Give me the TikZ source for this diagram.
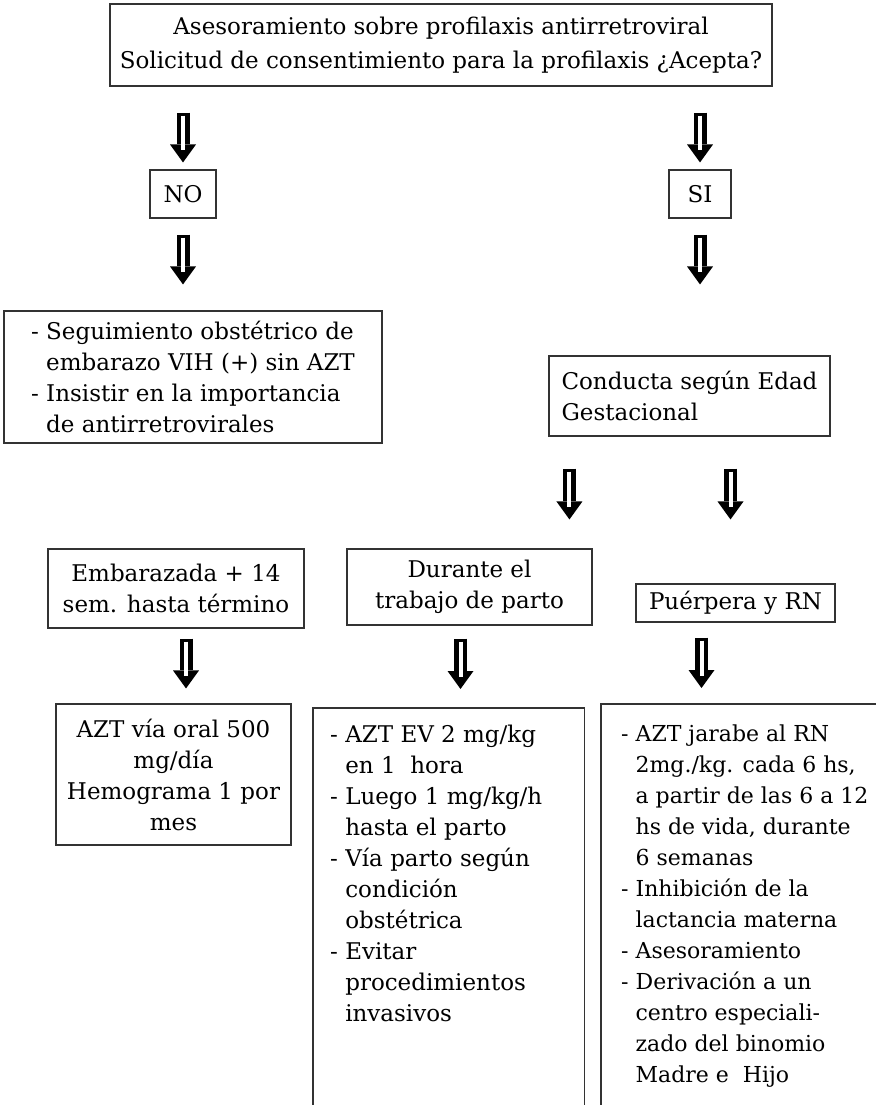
\documentclass[tikz,border=0pt]{standalone}
\usepackage{fontspec}
\setmainfont{DejaVu Serif}
\usetikzlibrary{arrows.meta,positioning,calc}

\tikzset{
  caja/.style={draw=black!80, line width=1.1pt, inner sep=0pt, align=center, font=\fontsize{23}{31}\selectfont},
  texto/.style={inner sep=0pt, align=left, font=\fontsize{23}{31}\selectfont},
  borde/.style={draw=black!80, line width=1.1pt},
  flecha/.style 2 args={line width=13pt, -{Triangle[width=26pt,length=18pt,line width=0pt]},
    shorten <=#1, shorten >=#2,
    postaction={draw=white, line width=4pt, -, shorten <=#1+3pt, shorten >=#2+12pt}}
}
\newcommand{\sang}{\phantom{- }}

\begin{document}
\begin{tikzpicture}[x=1pt, y=-1pt]
  \useasboundingbox (0,0) rectangle (875,1105);
  \node[caja, minimum width=662pt, minimum height=82pt, font=\fontsize{23}{34}\selectfont] (asesor) at (441,45)
    {Asesoramiento sobre profilaxis antirretroviral\\Solicitud de consentimiento para la profilaxis ¿Acepta?};
  \node[caja, minimum width=66pt, minimum height=48pt] (no) at (183,194) {NO};
  \node[caja, minimum width=62pt, minimum height=48pt] (si) at (700,194) {SI};
  \node[caja, minimum width=378pt, minimum height=132pt, align=left] (seguimiento) at (193,377)
    {- Seguimiento obstétrico de\\\sang embarazo VIH (+) sin AZT\\- Insistir en la importancia\\\sang de antirretrovirales};
  \node[caja, minimum width=281pt, minimum height=80pt, align=left] (conducta) at (689.5,396)
    {Conducta según Edad\\Gestacional};
  \node[caja, minimum width=256pt, minimum height=79pt] (embarazada) at (176,588.5) {Embarazada + 14\\sem. hasta término};
  \node[caja, minimum width=245pt, minimum height=76pt] (durante) at (469.5,587) {Durante el\\trabajo de parto};
  \node[caja, minimum width=199pt, minimum height=38pt] (puerpera) at (735.5,603) {Puérpera y RN};
  \node[caja, minimum width=235pt, minimum height=141pt] (azt) at (173.5,774.5)
    {AZT vía oral 500\\mg/día\\Hemograma 1 por\\mes};

  \node[minimum width=271pt, minimum height=400pt, anchor=north west, inner sep=0pt] (ev) at (313,708) {};
  \node[texto, anchor=north west] (evtexto) at ([xshift=17pt, yshift=-17pt]ev.north west)
    {- AZT EV 2 mg/kg\\\sang en 1\ \ hora\\- Luego 1 mg/kg/h\\\sang hasta el parto\\- Vía parto según\\\sang condición\\\sang obstétrica\\- Evitar\\\sang procedimientos\\\sang invasivos};
  \draw[borde] (ev.south west) -- (ev.north west) -- (ev.north east) -- (ev.south east);

  \node[minimum width=290pt, minimum height=405pt, anchor=north west, inner sep=0pt] (jarabe) at (601,704) {};
  \node[texto, anchor=north west, font=\fontsize{22}{31}\selectfont] (jarabetexto) at ([xshift=20pt, yshift=-21pt]jarabe.north west)
    {- AZT jarabe al RN\\\sang 2mg./kg. cada 6 hs,\\\sang a partir de las 6 a 12\\\sang hs de vida, durante\\\sang 6 semanas\\- Inhibición de la\\\sang lactancia materna\\- Asesoramiento\\- Derivación a un\\\sang centro especiali-\\\sang zado del binomio\\\sang Madre e\ \ Hijo};
  \draw[borde] (jarabe.south west) -- (jarabe.north west) -- (jarabe.north east);

  \draw[flecha={26pt}{7pt}] (asesor.south -| no.north) -- (no.north);
  \draw[flecha={26pt}{7pt}] (asesor.south -| si.north) -- (si.north);
  \draw[flecha={16pt}{26pt}] (no.south) -- (no.south |- seguimiento.north);
  \draw[flecha={16pt}{71pt}] (si.south) -- (si.south |- conducta.north);
  \draw[flecha={32pt}{29pt}] ([xshift=21pt]conducta.south west) -- ([xshift=21pt]conducta.south west |- durante.north);
  \draw[flecha={32pt}{64pt}] ([xshift=-5pt]conducta.south -| puerpera.north) -- ([xshift=-5pt]puerpera.north);
  \draw[flecha={10pt}{15pt}] ([xshift=10pt]embarazada.south) -- ([xshift=10pt]embarazada.south |- azt.north);
  \draw[flecha={13pt}{19pt}] ([xshift=-9pt]durante.south) -- ([xshift=-9pt]durante.south |- ev.north);
  \draw[flecha={15pt}{16pt}] ([xshift=-34pt]puerpera.south) -- ([xshift=-34pt]puerpera.south |- jarabe.north);
\end{tikzpicture}
\end{document}
